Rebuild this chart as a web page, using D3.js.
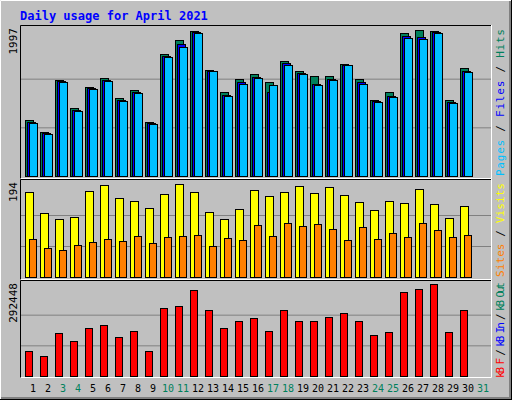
<!DOCTYPE html>
<html><head><meta charset="utf-8">
<script src="https://cdn.jsdelivr.net/npm/d3@7"></script>
<style>body{margin:0;background:#fff}</style></head>
<body><script>
const days = d3.range(1, 32);
const weekend = [3,4,10,11,17,18,24,25,31];
const hits  = [762,598,1309,926,1213,1336,1063,1176,735,1665,1856,1985,1446,1145,1323,1391,1282,1569,1432,1364,1364,1528,1323,1035,1145,1952,1997,1990,1035,1480];
const files = [735,585,1295,900,1200,1315,1040,1150,720,1640,1800,1975,1440,1110,1280,1360,1150,1540,1410,1260,1330,1520,1290,1020,1100,1910,1905,1975,1010,1440];
const pages = [721,570,1282,885,1186,1295,1022,1131,707,1624,1760,1960,1432,1090,1254,1336,1241,1514,1391,1241,1309,1514,1254,1008,1076,1883,1870,1950,994,1418];
const visits= [177,133,121,125,179,192,165,158,144,173,194,177,135,121,142,181,169,177,190,175,188,171,156,140,158,154,184,152,123,148];
const sites = [79,60,56,66,73,79,75,85,71,83,85,87,64,81,77,108,85,112,106,110,100,77,104,79,91,83,112,98,83,87];
const kbytes= [78773,62827,136178,110664,152125,161693,123422,142557,78773,215908,222286,273314,209530,152125,174449,184016,142557,209530,174449,174449,187206,199963,174449,129800,139368,266935,276503,292448,139368,209530];
const maxLabels = ["1997","194","292448"];

const W=512,H=400;
const svg=d3.select("body").append("svg").attr("width",W).attr("height",H).style("display","block");
svg.append("rect").attr("width",W).attr("height",H).attr("fill","#c0c0c0");
svg.append("path").attr("d","M0.5,399.5 V0.5 H511.5").attr("stroke","#fff").attr("fill","none");
svg.append("path").attr("d","M1,398 H510 V1").attr("stroke","#808080").attr("stroke-width",2).attr("fill","none");
svg.append("path").attr("d","M0,399.5 H512 M511.5,0 V400").attr("stroke","#000").attr("fill","none");

svg.append("text").attr("x",20).attr("y",20).text("Daily usage for April 2021")
  .attr("font-family","DejaVu Sans Mono").attr("font-weight","bold").attr("font-size",12).attr("fill","#0000ff");

const x=d3.scaleLinear().domain([1,31]).range([25,475]);
const panels=[{t:25,b:179,base:176,top:30},{t:179,b:280,base:277,top:184},{t:280,b:378,base:376,top:284}];
panels.forEach((p,i)=>{
  const g=svg.append("g");
  g.append("path").attr("d",`M20.5,${p.b} V${p.t+0.5} H491`).attr("stroke","#000").attr("fill","none");
  g.append("path").attr("d",`M20.5,${p.b-0.5} H491.5 V${p.t}`).attr("stroke","#fff").attr("fill","none");
  const h=p.base-p.top;
  [1,2].forEach(k=>g.append("line").attr("x1",21).attr("x2",491).attr("y1",p.base-h*k/3+0.5).attr("y2",p.base-h*k/3+0.5).attr("stroke","#808080"));
  g.append("text").attr("transform",`translate(17,${p.t+3}) rotate(-90)`).attr("text-anchor","end")
   .attr("font-family","DejaVu Sans Mono").attr("font-size",11).attr("fill","#000").text(maxLabels[i]);
});
function bars(data,max,p,off,w,color){
  const y=d3.scaleLinear().domain([0,max]).range([p.base,p.top]);
  svg.append("g").selectAll("rect").data(data).join("rect")
   .attr("x",(d,i)=>x(i+1)+off+0.5).attr("y",d=>Math.round(y(d))+0.5)
   .attr("width",w).attr("height",d=>p.base-Math.round(y(d)))
   .attr("fill",color).attr("stroke","#000");
}
bars(hits,1997,panels[0],0,8,"#00805c");
bars(files,1997,panels[0],2,8,"#0000ff");
bars(pages,1997,panels[0],4,8,"#00c0ff");
bars(visits,194,panels[1],0,8,"#ffff00");
bars(sites,194,panels[1],4,7,"#ff8000");
bars(kbytes,292448,panels[2],0,7,"#ff0000");

function sideLabel(parts,yStart,len){
  const t=svg.append("text").attr("transform",`translate(504,${yStart}) rotate(-90)`).attr("text-anchor","start")
   .attr("font-family","DejaVu Sans Mono").attr("font-size",11)
   .attr("textLength",len).attr("lengthAdjust","spacing");
  parts.forEach(([s,c])=>t.append("tspan").attr("fill",c).text(s));
}
sideLabel([["Pages","#00c0ff"],[" / ","#000"],["Files","#0000ff"],[" / ","#000"],["Hits","#00805c"]],176,147);
sideLabel([["Sites","#ff8000"],[" / ","#000"],["Visits","#ffff00"]],277,94);
sideLabel([["kB F","#ff0000"],[" / ","#000"],["kB In","#0000ff"],[" / ","#000"],["kB Out","#00805c"]],378,96);

svg.append("g").selectAll("text").data(days).join("text")
  .attr("x",d=>x(d)+8).attr("y",392).attr("text-anchor","middle")
  .attr("font-family","DejaVu Sans Mono").attr("font-size",10)
  .attr("fill",d=>weekend.includes(d)?"#00805c":"#000").text(d=>d);
</script></body></html>
